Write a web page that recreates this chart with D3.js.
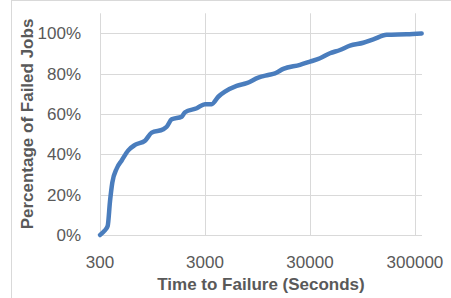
<!DOCTYPE html>
<html>
<head>
<meta charset="utf-8">
<script src="https://cdn.jsdelivr.net/npm/d3@7"></script>
<style>
  html, body { margin: 0; padding: 0; background: #fff; }
  svg text { font-family: "Liberation Sans", Arial, sans-serif; fill: #595959; }
</style>
</head>
<body>
<div id="app"></div>
<script>
// time to failure (seconds) and cumulative share of failed jobs
const times = [300, 330, 355, 374, 393, 433, 483, 558, 646, 805, 932, 1202, 1295, 1446, 1800, 1935,
  2502, 3000, 3475, 4016, 4648, 6009, 7482, 9655, 12024, 13925, 16700, 24090, 30000,
  37350, 46480, 57930, 72120, 96550, 120250, 161300, 250100, 347400]
const failedPct = [0, 0.02, 0.045, 0.17, 0.26, 0.33, 0.37, 0.42, 0.447, 0.468, 0.508, 0.525, 0.537,
  0.574, 0.587, 0.609, 0.629, 0.649, 0.649, 0.686, 0.711, 0.74, 0.753, 0.781, 0.794,
  0.802, 0.824, 0.844, 0.86, 0.877, 0.902, 0.918, 0.94, 0.954, 0.971, 0.993, 0.996, 1.0]
const xTicks = [300, 3000, 30000, 300000]
const yTicks = [0, 0.2, 0.4, 0.6, 0.8, 1.0]

const W = 451, H = 298
const svg = d3.select('#app').append('svg').attr('width', W).attr('height', H)

// chart border (only left/top inside the picture)
svg.append('rect')
  .attr('x', 11.5).attr('y', 0.5).attr('width', 460).attr('height', 310)
  .style('fill', 'none').style('stroke', '#d9d9d9')

const x = d3.scaleLog().domain([300, 350000]).range([100, 422])
const y = d3.scaleLinear().domain([0, 1.1]).range([235, 13.3])

// grid
svg.append('g').selectAll('line').data(yTicks).join('line')
  .attr('x1', 100).attr('x2', 422)
  .attr('y1', d => Math.round(y(d)) + 0.5).attr('y2', d => Math.round(y(d)) + 0.5)
  .style('stroke', '#d9d9d9')
svg.append('g').selectAll('line').data(xTicks).join('line')
  .attr('x1', d => Math.round(x(d)) + 0.5).attr('x2', d => Math.round(x(d)) + 0.5)
  .attr('y1', y(1.1)).attr('y2', y(0))
  .style('stroke', '#d9d9d9')

// tick labels
svg.append('g').selectAll('text').data(yTicks).join('text')
  .attr('x', 81).attr('y', d => y(d) + 6)
  .style('text-anchor', 'end').style('font-size', '17px')
  .text(d3.format('.0%'))
svg.append('g').selectAll('text').data(xTicks).join('text')
  .attr('x', d => x(d)).attr('y', 268)
  .style('text-anchor', 'middle').style('font-size', '17px')
  .text(d => d)

// axis titles
svg.append('text')
  .attr('x', 261).attr('y', 290)
  .style('text-anchor', 'middle').style('font-size', '17px').style('font-weight', 'bold')
  .text('Time to Failure (Seconds)')
svg.append('text')
  .attr('transform', 'translate(33,124) rotate(-90)')
  .style('text-anchor', 'middle').style('font-size', '17px').style('font-weight', 'bold')
  .text('Percentage of Failed Jobs')

// cdf line
const line = d3.line().curve(d3.curveMonotoneX).x((d, i) => x(times[i])).y(d => y(d))
svg.append('path').datum(failedPct)
  .attr('d', line)
  .style('fill', 'none').style('stroke', '#4a7dbd').style('stroke-width', 4.5)
  .style('stroke-linecap', 'round').style('stroke-linejoin', 'round')
</script>
</body>
</html>
